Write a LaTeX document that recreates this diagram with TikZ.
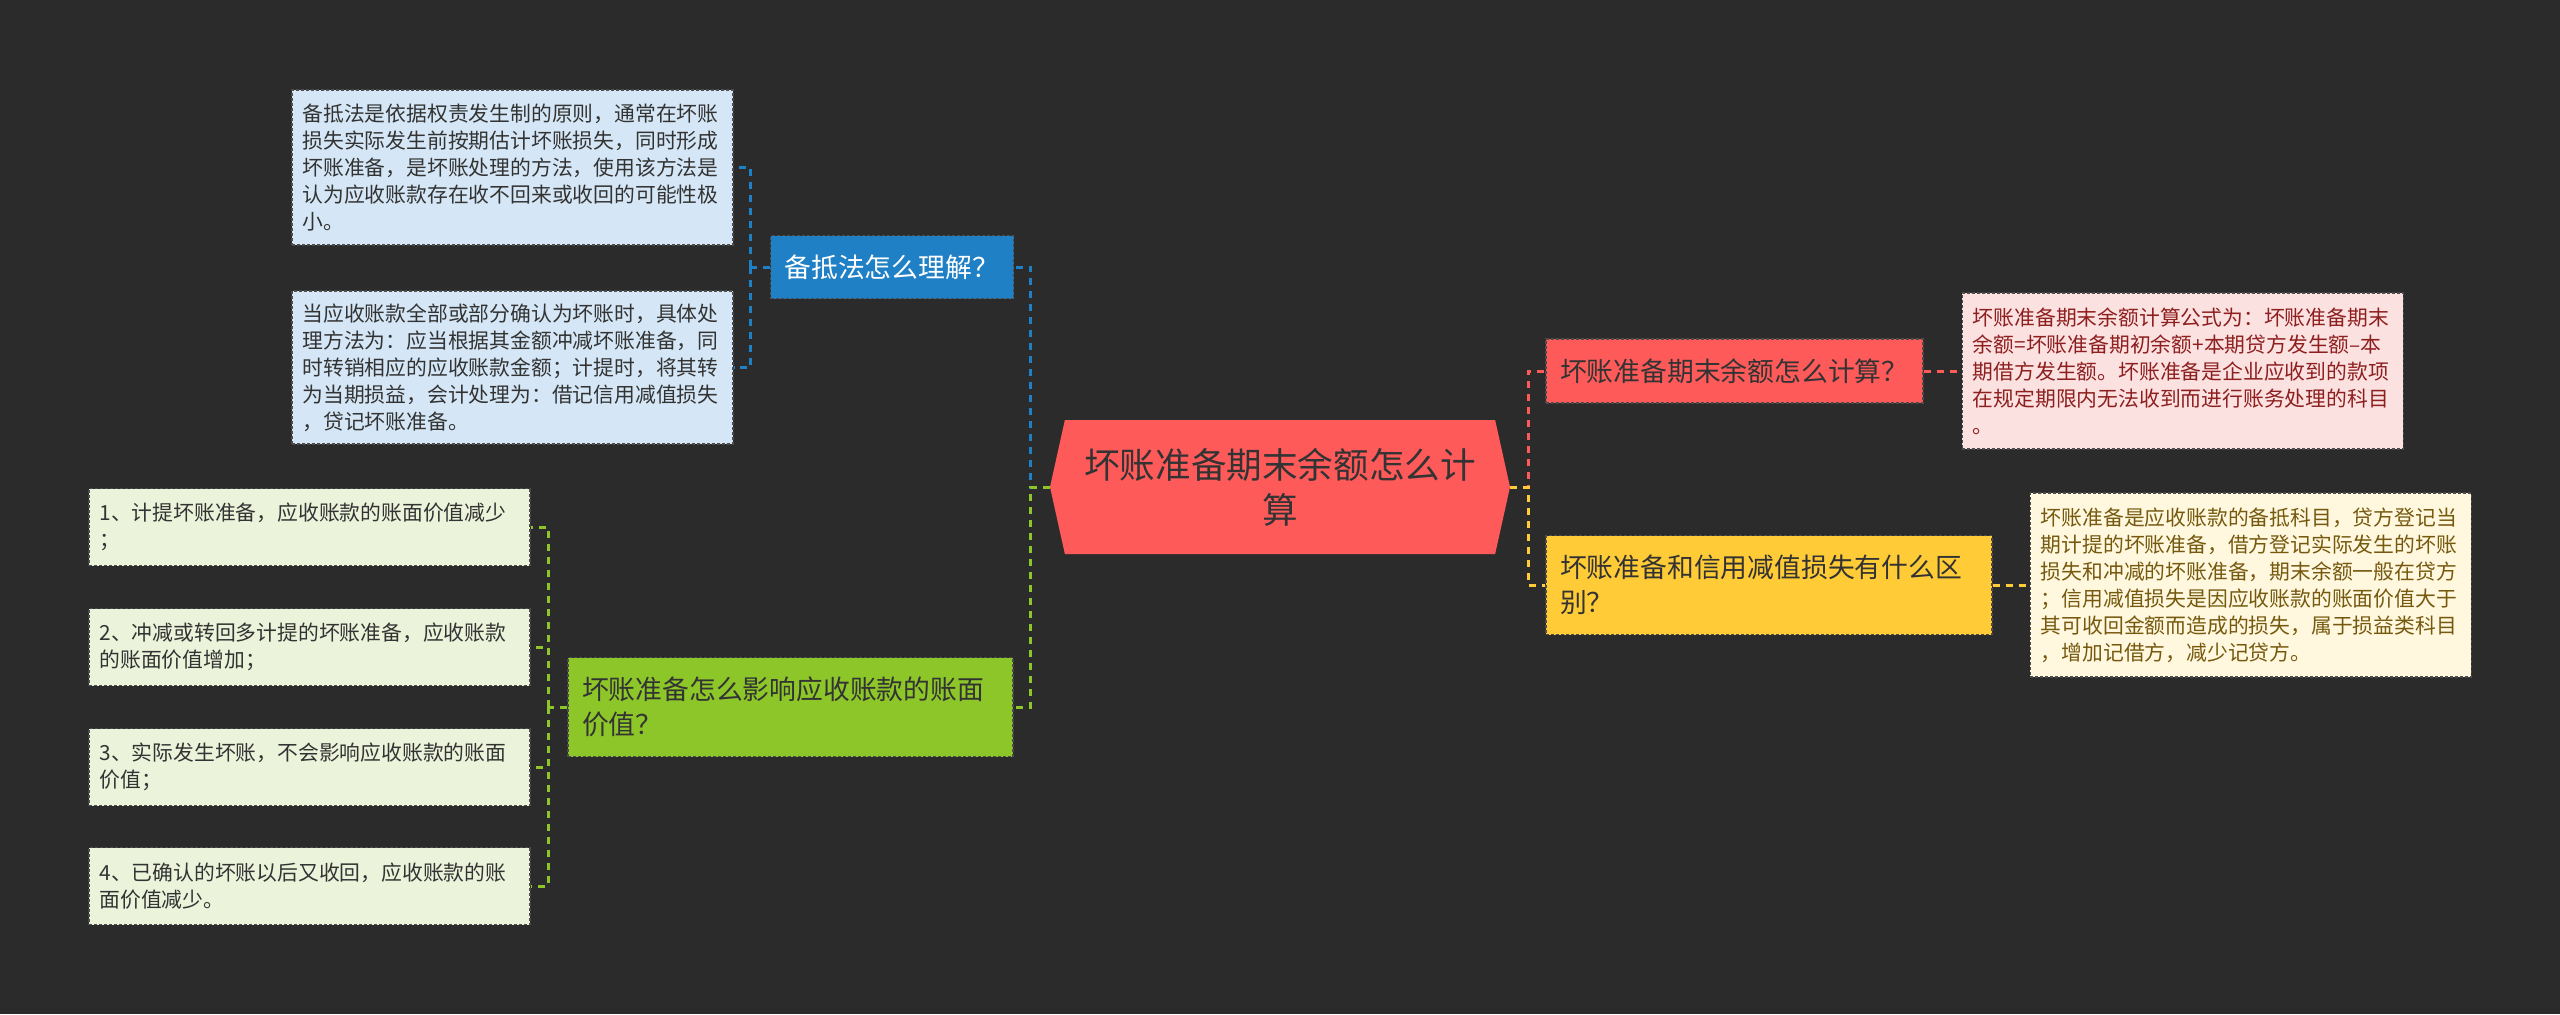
\documentclass[tikz,border=0pt]{standalone}
\usepackage{fontspec}
\setmainfont{Noto Sans CJK SC}
\usepackage{tikz}
\usetikzlibrary{positioning,shapes.symbols}
\definecolor{bgc}{HTML}{2B2B2B}
\definecolor{ink}{HTML}{333333}
\definecolor{blu}{HTML}{1F80C6}
\definecolor{bluleaf}{HTML}{D5E7F6}
\definecolor{grn}{HTML}{8CC629}
\definecolor{grnleaf}{HTML}{EBF3DA}
\definecolor{coral}{HTML}{FF5A5A}
\definecolor{blush}{HTML}{FCE1E1}
\definecolor{wine}{HTML}{8E1F1F}
\definecolor{gold}{HTML}{FFCB36}
\definecolor{cream}{HTML}{FFF8DE}
\definecolor{umber}{HTML}{76590F}
\tikzset{hub/.style={shape=signal,signal to=west and east,signal pointer angle=155,fill=coral,text=ink,align=center,minimum width=230pt,minimum height=67pt,font=\fontsize{17.8}{22.5}\selectfont},ques/.style={draw=black!70,dash pattern=on 1.5pt off 1pt,line width=.7pt,align=left,inner xsep=7pt,text=ink,font=\fontsize{13.4}{17.5}\selectfont},leaf/.style={draw=black!70,dash pattern=on 1.5pt off 1pt,line width=.7pt,align=left,text width=210pt,inner xsep=5.25pt,text=ink,font=\fontsize{10.4}{13.5}\selectfont},link/.style={dash pattern=on 3.5pt off 3pt,line width=1.5pt}}
\begin{document}
\begin{tikzpicture}[x=0.5pt,y=-0.5pt,node distance=19pt]
\fill[bgc] (0,0) rectangle (2560,1014);
\useasboundingbox (0,0) rectangle (2560,1014);
\node[hub] (c) at (1280,487) {坏账准备期末余额怎么计\\算};
% left side
\node[ques,fill=blu,text=white,text width=107.5pt,minimum height=31.5pt] (bq) at (892,267) {备抵法怎么理解？};
\node[leaf,fill=bluleaf,minimum height=77.5pt] (b1) at (512.5,167.5) {备抵法是依据权责发生制的原则，通常在坏账\\损失实际发生前按期估计坏账损失，同时形成\\坏账准备，是坏账处理的方法，使用该方法是\\认为应收账款存在收不回来或收回的可能性极\\小。};
\node[leaf,fill=bluleaf,minimum height=76.5pt] (b2) at (512.5,367.5) {当应收账款全部或部分确认为坏账时，具体处\\理方法为：应当根据其金额冲减坏账准备，同\\时转销相应的应收账款金额；计提时，将其转\\为当期损益，会计处理为：借记信用减值损失\\，贷记坏账准备。};
\node[ques,fill=grn,text width=208.5pt,minimum height=49.5pt] (gq) at (790.5,707) {坏账准备怎么影响应收账款的账面\\价值？};
\node[leaf,fill=grnleaf,minimum height=38.5pt] (g1) at (309.5,527) {1、计提坏账准备，应收账款的账面价值减少\\；};
\node[leaf,fill=grnleaf,minimum height=38.5pt] (g2) at (309.5,647) {2、冲减或转回多计提的坏账准备，应收账款\\的账面价值增加；};
\node[leaf,fill=grnleaf,minimum height=38.5pt] (g3) at (309.5,767) {3、实际发生坏账，不会影响应收账款的账面\\价值；};
\node[leaf,fill=grnleaf,minimum height=38.5pt] (g4) at (309.5,886) {4、已确认的坏账以后又收回，应收账款的账\\面价值减少。};
% right side
\node[ques,fill=coral,text width=174.5pt,minimum height=32pt] (rq) at (1734.5,371) {坏账准备期末余额怎么计算？};
\node[leaf,fill=blush,text=wine,minimum height=78pt,right=19pt of rq] (r1) {坏账准备期末余额计算公式为：坏账准备期末\\余额=坏账准备期初余额+本期贷方发生额–本\\期借方发生额。坏账准备是企业应收到的款项\\在规定期限内无法收到而进行账务处理的科目\\。};
\node[ques,fill=gold,text width=209pt,minimum height=49.5pt] (yq) at (1769,585) {坏账准备和信用减值损失有什么区\\别？};
\node[leaf,fill=cream,text=umber,minimum height=92pt,right=18.5pt of yq] (y1) {坏账准备是应收账款的备抵科目，贷方登记当\\期计提的坏账准备，借方登记实际发生的坏账\\损失和冲减的坏账准备，期末余额一般在贷方\\；信用减值损失是因应收账款的账面价值大于\\其可收回金额而造成的损失，属于损益类科目\\，增加记借方，减少记贷方。};
% connectors
\draw[link,blu] (c.west) -- ++(-9.5pt,0) |- (bq.east);
\draw[link,grn] (c.west) -- ++(-9.5pt,0) |- (gq.east);
\draw[link,blu] (bq.west) -- ++(-9.5pt,0) coordinate (bj);
\draw[link,blu] (bj) |- (b1.east);\draw[link,blu] (bj) |- (b2.east);
\draw[link,grn] (gq.west) -- ++(-9.5pt,0) coordinate (gj);
\draw[link,grn] (gj) |- (g1.east);\draw[link,grn] (gj) |- (g2.east);\draw[link,grn] (gj) |- (g3.east);\draw[link,grn] (gj) |- (g4.east);
\draw[link,coral] (c.east) -- ++(9pt,0) |- (rq.west);
\draw[link,gold] (c.east) -- ++(9pt,0) |- (yq.west);
\draw[link,coral] (rq) -- (r1);
\draw[link,gold] (yq) -- (y1);
\end{tikzpicture}
\end{document}
